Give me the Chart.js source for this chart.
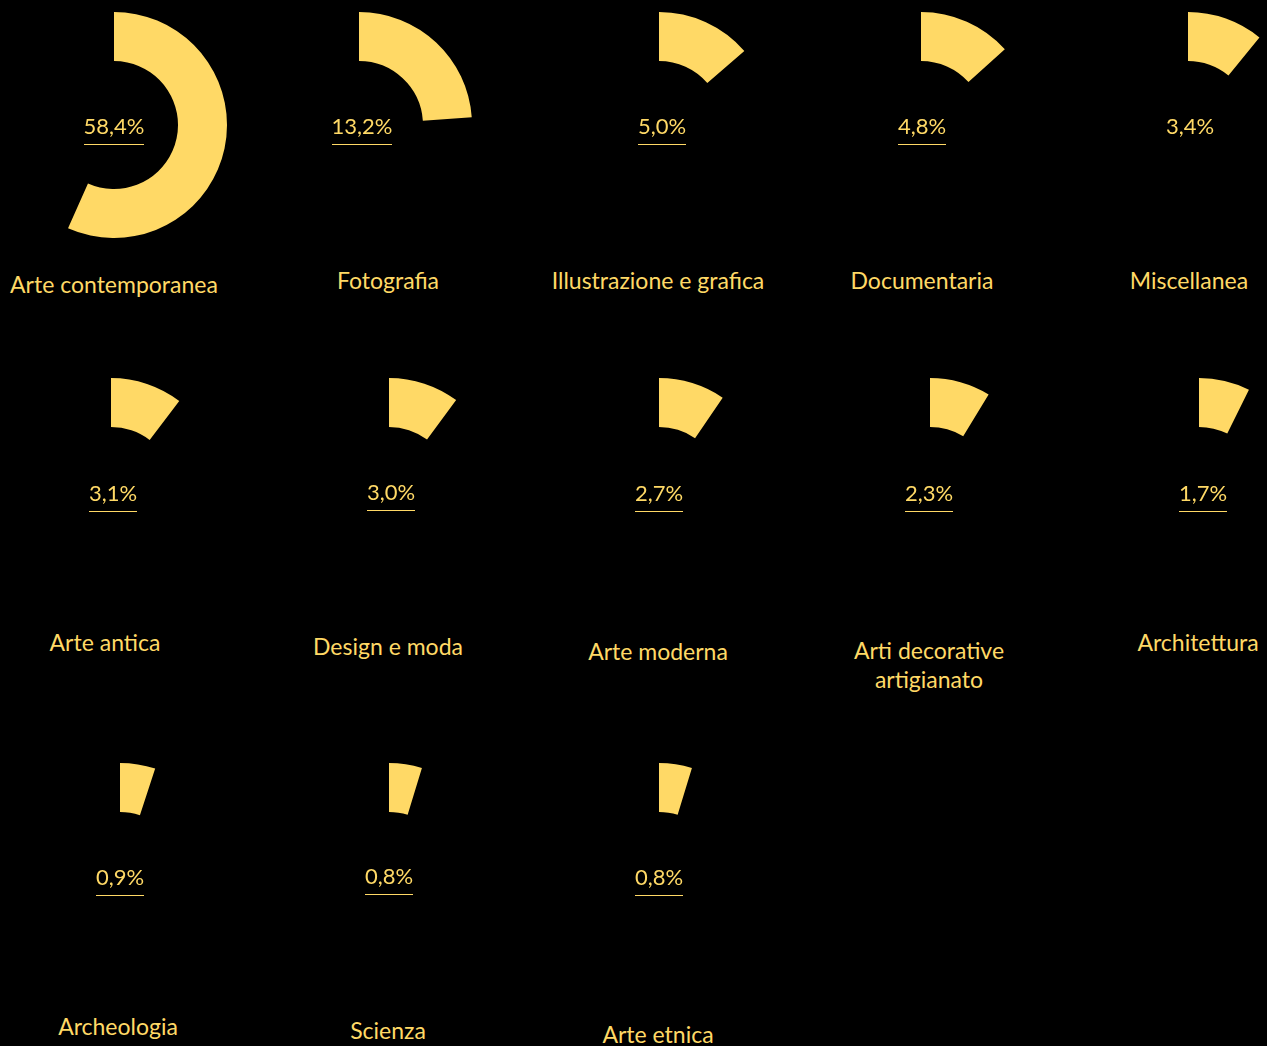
<!DOCTYPE html>
<html lang="it">
<head>
<meta charset="utf-8">
<title>Ripartizione per categoria</title>
<script src="https://cdn.jsdelivr.net/npm/chart.js@4.4.1/dist/chart.umd.min.js"></script>
<style>
  html, body { margin: 0; padding: 0; background: #000; }
  body { width: 1267px; height: 1046px; position: relative; overflow: hidden; font-family: Lato, "Open Sans", sans-serif; color: #FFD966; }
  canvas { position: absolute; }
  .pct, .cat { position: absolute; width: 280px; margin-left: -140px; text-align: center; white-space: nowrap; }
  .pct span { display: inline-block; font-size: 22px; line-height: 22px; padding-bottom: 7px; border-bottom: 1px solid #FFD966; }
  .pct span.plain { border-bottom-color: transparent; }
  .cat { font-size: 23px; line-height: 29px; }
</style>
</head>
<body>
<script>
// categories and their share of the total (%)
const categories = [
    'Arte contemporanea', 'Fotografia', 'Illustrazione e grafica', 'Documentaria', 'Miscellanea',
    'Arte antica', 'Design e moda', 'Arte moderna', 'Arti decorative\nartigianato', 'Architettura',
    'Archeologia', 'Scienza', 'Arte etnica'
];
const shares = [58.4, 13.2, 5.0, 4.8, 3.4, 3.1, 3.0, 2.7, 2.3, 1.7, 0.9, 0.8, 0.8];

// where each small ring sits: ring centre, percentage label centre, category label centre
const slots = [
    { cx: 114,  cy: 125, px: 114,  py: 126, lx: 114,  ly: 284 },
    { cx: 359,  cy: 125, px: 362,  py: 126, lx: 388,  ly: 280 },
    { cx: 659,  cy: 125, px: 662,  py: 126, lx: 658,  ly: 280 },
    { cx: 921,  cy: 125, px: 922,  py: 126, lx: 922,  ly: 280 },
    { cx: 1188, cy: 125, px: 1190, py: 126, lx: 1189, ly: 280, plain: true },
    { cx: 111,  cy: 491, px: 113,  py: 493, lx: 105,  ly: 642 },
    { cx: 389,  cy: 491, px: 391,  py: 492, lx: 388,  ly: 646 },
    { cx: 659,  cy: 491, px: 659,  py: 493, lx: 658,  ly: 651 },
    { cx: 930,  cy: 491, px: 929,  py: 493, lx: 929,  ly: 665 },
    { cx: 1199, cy: 491, px: 1203, py: 493, lx: 1198, ly: 642 },
    { cx: 120,  cy: 876, px: 120,  py: 877, lx: 118,  ly: 1026 },
    { cx: 389,  cy: 876, px: 389,  py: 876, lx: 388,  ly: 1030 },
    { cx: 659,  cy: 876, px: 659,  py: 877, lx: 658,  ly: 1034 }
];

const YELLOW = '#FFD966';
const OUTER = 113;
const INNER = 64;

// arc sweep in degrees for a share: the largest share gets 204 degrees,
// smaller ones follow a compressed (power) scale so they stay visible
const maxShare = Math.max(...shares);
const sweepOf = v => 204 * Math.pow(v / maxShare, 0.58);

const fmt = v => v.toFixed(1).replace('.', ',') + '%';

shares.forEach((v, i) => {
    const s = slots[i];

    const canvas = document.createElement('canvas');
    canvas.width = OUTER * 2;
    canvas.height = OUTER * 2;
    canvas.style.left = (s.cx - OUTER) + 'px';
    canvas.style.top = (s.cy - OUTER) + 'px';
    document.body.appendChild(canvas);

    const sweep = sweepOf(v);
    new Chart(canvas.getContext('2d'), {
        type: 'doughnut',
        data: {
            labels: [categories[i], ''],
            datasets: [{
                data: [sweep, 360 - sweep],
                backgroundColor: [YELLOW, 'rgba(0,0,0,0)'],
                borderWidth: 0
            }]
        },
        options: {
            responsive: false,
            animation: false,
            events: [],
            cutout: INNER,
            rotation: 0,
            layout: { padding: 0 },
            plugins: { legend: { display: false }, tooltip: { enabled: false } }
        }
    });

    const pct = document.createElement('div');
    pct.className = 'pct';
    pct.style.left = s.px + 'px';
    pct.style.top = (s.py - 11) + 'px';
    pct.innerHTML = '<span' + (s.plain ? ' class="plain"' : '') + '>' + fmt(v) + '</span>';
    document.body.appendChild(pct);

    const cat = document.createElement('div');
    cat.className = 'cat';
    const lines = categories[i].split('\n');
    cat.style.left = s.lx + 'px';
    cat.style.top = (s.ly - lines.length * 29 / 2) + 'px';
    cat.innerHTML = lines.join('<br>');
    document.body.appendChild(cat);
});
</script>
</body>
</html>
